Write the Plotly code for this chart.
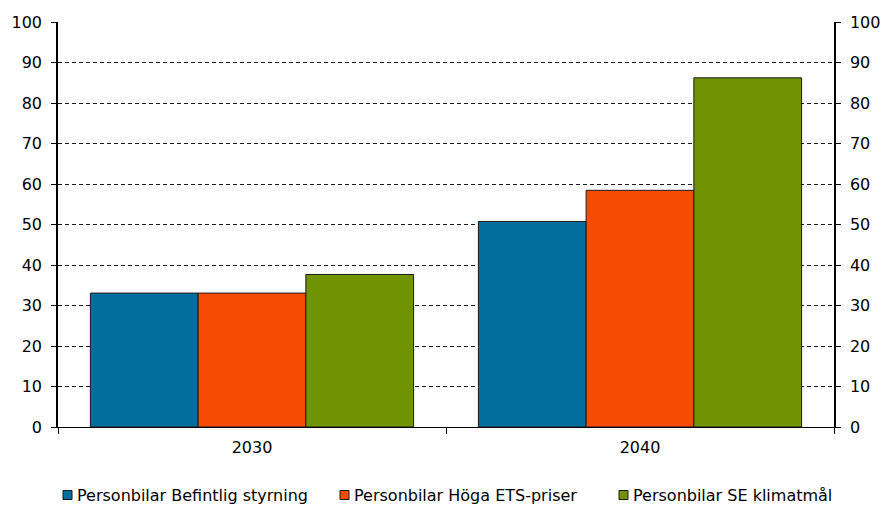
import plotly.graph_objects as go

years = ["2030", "2040"]
series_names = [
    "Personbilar Befintlig styrning",
    "Personbilar Höga ETS-priser",
    "Personbilar SE klimatmål",
]
befintlig = [33.1, 50.8]
hoga_ets = [33.1, 58.5]
se_klimatmal = [37.7, 86.3]
colors = ["#006F9D", "#F64B02", "#6F9400"]
y_ticks = list(range(0, 101, 10))

W, H = 882, 505
M_L, M_R, M_T, M_B = 58, 48, 22, 78
plot_w = W - M_L - M_R
plot_h = H - M_T - M_B

fig = go.Figure()
for name, vals, col in zip(series_names, [befintlig, hoga_ets, se_klimatmal], colors):
    fig.add_trace(go.Bar(
        x=years, y=vals, name=name,
        marker=dict(color=col, line=dict(color="#1a1a1a", width=1)),
    ))

# invisible trace so the mirrored right-hand axis is drawn
fig.add_trace(go.Scatter(x=years, y=[0, 0], yaxis="y2", mode="markers",
                         marker=dict(opacity=0), showlegend=False, hoverinfo="skip"))

family = "DejaVu Sans, Verdana, sans-serif"
y_range = [0, 100.1]

# legend row below the chart: small outlined squares followed by labels
legend_px = [63, 340, 619]   # left edge of each square, in page pixels
legend_cy = 495              # vertical centre of the row, in page pixels
sq = 9


def px_to_paper_x(px):
    return (px - M_L) / plot_w


def px_to_paper_y(py):
    return (H - M_B - py) / plot_h


for x0, name, col in zip(legend_px, series_names, colors):
    fig.add_shape(type="rect", xref="paper", yref="paper",
                  x0=px_to_paper_x(x0), x1=px_to_paper_x(x0 + sq),
                  y0=px_to_paper_y(legend_cy + sq / 2), y1=px_to_paper_y(legend_cy - sq / 2),
                  fillcolor=col, line=dict(color="#1a1a1a", width=1))
    fig.add_annotation(xref="paper", yref="paper",
                       x=px_to_paper_x(x0 + sq + 3), y=px_to_paper_y(legend_cy),
                       xanchor="left", yanchor="middle", showarrow=False,
                       text=name, font=dict(family=family, size=16, color="#000000"))

fig.update_layout(
    width=W, height=H,
    margin=dict(l=M_L, r=M_R, t=M_T, b=M_B, autoexpand=False),
    paper_bgcolor="white", plot_bgcolor="white",
    font=dict(family=family, size=16, color="#000000"),
    barmode="group", bargap=0.167, bargroupgap=0,
    showlegend=False,
    xaxis=dict(
        type="category", showline=True, linecolor="#000000", linewidth=1,
        ticks="outside", tickson="boundaries", ticklen=6, tickcolor="#000000",
        showgrid=False, zeroline=False, ticklabelstandoff=6,
    ),
    yaxis=dict(
        range=y_range, tickvals=y_ticks, showline=True, linecolor="#000000",
        linewidth=1.5, ticks="outside", ticklen=5, tickcolor="#000000",
        showgrid=True, gridcolor="#1a1a1a", gridwidth=1, griddash="4px,3px",
        zeroline=False, ticklabelstandoff=6,
    ),
    yaxis2=dict(
        range=y_range, tickvals=y_ticks, overlaying="y", side="right",
        showline=True, linecolor="#000000", linewidth=1.5, ticks="outside",
        ticklen=5, tickcolor="#000000", showgrid=False, zeroline=False,
        ticklabelstandoff=6,
    ),
)

fig.write_html("out.html")
